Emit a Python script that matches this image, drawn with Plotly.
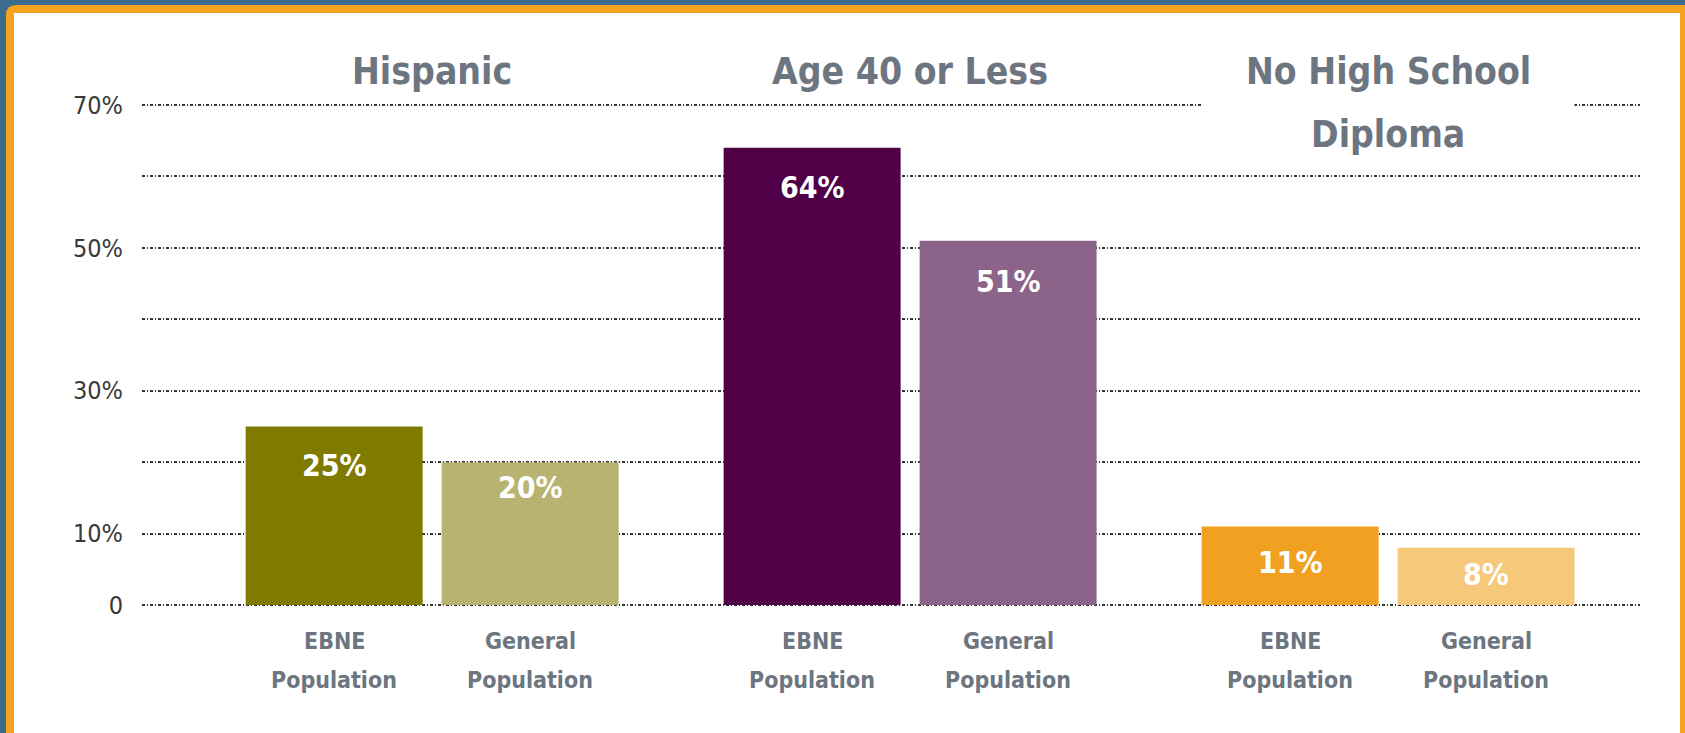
import plotly.graph_objects as go

# ---- data ----
groups = ["Hispanic", "Age 40 or Less", "No High School<br>Diploma"]
series_names = ["EBNE<br>Population", "General<br>Population"]
ebne_values = [25, 64, 11]
general_values = [20, 51, 8]
ebne_colors = ["#7f7a00", "#500046", "#f0a121"]
general_colors = ["#b8b371", "#8c6389", "#f5c87a"]
tick_vals = [0, 10, 20, 30, 40, 50, 60, 70]
tick_text = ["0", "10%", "", "30%", "", "50%", "", "70%"]

W, H = 1685, 733
FONT = "DejaVu Sans Condensed, Liberation Sans Narrow, Arial Narrow, sans-serif"
GRAY = "#6c7580"

x_idx = list(range(len(groups)))

fig = go.Figure()
fig.add_trace(go.Bar(x=x_idx, y=ebne_values, marker=dict(color=ebne_colors, line=dict(width=0)),
                     name="EBNE", hoverinfo="skip"))
fig.add_trace(go.Bar(x=x_idx, y=general_values, marker=dict(color=general_colors, line=dict(width=0)),
                     name="General", hoverinfo="skip"))

# plot area geometry (pixels)
x_left, x_right = 142, 1640
y_zero, y_top = 605, 105
ppu = (y_zero - y_top) / 70.0
pad = 0.5
yb = y_zero + pad * ppu
yt = y_top - pad * ppu

fig.update_layout(
    width=W, height=H,
    margin=dict(l=0, r=0, t=0, b=0),
    autosize=False,
    paper_bgcolor="white",
    plot_bgcolor="rgba(0,0,0,0)",
    showlegend=False,
    barmode="group",
    bargap=0.18,
    bargroupgap=0.097,
    xaxis=dict(domain=[x_left / W, x_right / W], range=[-0.607, 2.527],
               showgrid=False, zeroline=False, showticklabels=False, showline=False,
               fixedrange=True, automargin=False),
    yaxis=dict(domain=[1 - yb / H, 1 - yt / H], range=[-pad, 70 + pad],
               tickvals=tick_vals, ticktext=tick_text,
               showgrid=True, gridcolor="#333333", gridwidth=1.7,
               griddash="3px,2px,1px,2px",
               zeroline=False, showline=False,
               ticks="outside", ticklen=13, tickcolor="rgba(0,0,0,0)",
               tickfont=dict(family=FONT, size=25, color="#3a3a3a"),
               fixedrange=True, automargin=False),
)

# frame: blue outer, orange inner, white interior
fig.add_shape(type="rect", xref="paper", yref="paper", x0=0, x1=1, y0=0, y1=1,
              fillcolor="#3d6d8e", line=dict(width=0), layer="below")
ox0, oy0 = 6, 5
r = 10
path = (f"M {ox0/W},{-0.05} L {ox0/W},{1-(oy0+r)/H} "
        f"Q {ox0/W},{1-oy0/H} {(ox0+r)/W},{1-oy0/H} L 1.05,{1-oy0/H} L 1.05,-0.05 Z")
fig.add_shape(type="path", xref="paper", yref="paper", path=path,
              fillcolor="#f6a31f", line=dict(width=0), layer="below")
fig.add_shape(type="rect", xref="paper", yref="paper", x0=14 / W, x1=1680 / W, y0=-0.05, y1=1 - 13 / H,
              fillcolor="white", line=dict(width=0), layer="below")

# group titles
title_line_y = [72, 134]
for i, g in enumerate(groups):
    lines = g.split("<br>")
    if len(lines) > 1:
        # white patch that breaks the top gridline behind a two-line title
        fig.add_annotation(xref="x", yref="paper", x=i, y=1 - 103 / H, text=" ",
                           showarrow=False, xanchor="center", yanchor="middle",
                           bgcolor="white", width=372, height=30, borderpad=0)
    for k, ln in enumerate(lines):
        fig.add_annotation(
            xref="x", yref="paper", x=i, y=1 - title_line_y[k] / H,
            text=f"<b>{ln}</b>", showarrow=False, xanchor="center", yanchor="middle",
            font=dict(family=FONT, size=37, color=GRAY),
        )

# value labels and category labels under bars
shift = 98
ebne_offsets = [-39, -40, -36]
general_offsets = [-25, -41, -27]
label_line_y = [641, 680]
for i in x_idx:
    for vals, offs, dx, nm in ((ebne_values, ebne_offsets, -shift, series_names[0]),
                               (general_values, general_offsets, shift, series_names[1])):
        fig.add_annotation(xref="x", yref="y", x=i, y=vals[i], xshift=dx, yshift=offs[i],
                           text=f"<b>{vals[i]}%</b>", showarrow=False,
                           xanchor="center", yanchor="middle",
                           font=dict(family=FONT, size=30, color="white"))
        for k, ln in enumerate(nm.split("<br>")):
            fig.add_annotation(xref="x", yref="paper", x=i, y=1 - label_line_y[k] / H, xshift=dx,
                               text=f"<b>{ln}</b>", showarrow=False,
                               xanchor="center", yanchor="middle",
                               font=dict(family=FONT, size=23, color=GRAY))

fig.write_html("out.html")
